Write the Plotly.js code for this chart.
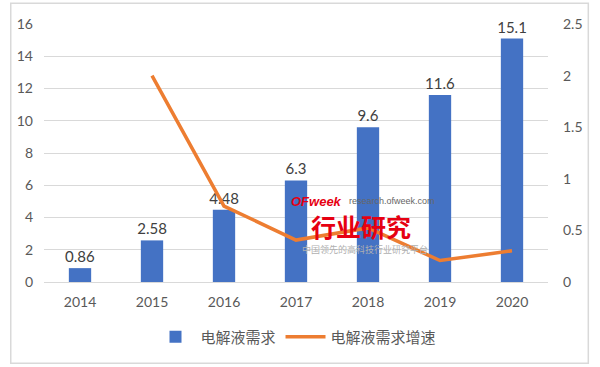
<!DOCTYPE html>
<html><head><meta charset="utf-8">
<script src="https://cdn.plot.ly/plotly-3.0.1.min.js"></script>
<style>html,body{margin:0;padding:0;background:#fff}#c{width:600px;height:367px}</style>
</head><body><div id="c"></div>
<script>
const years = ['2014','2015','2016','2017','2018','2019','2020'];
const demand = [0.86, 2.58, 4.48, 6.3, 9.6, 11.6, 15.1];
const demandLabels = ['0.86','2.58','4.48','6.3','9.6','11.6','15.1'];
const growthYears = ['2015','2016','2017','2018','2019','2020'];
const growth = [2.0, 0.736, 0.406, 0.524, 0.208, 0.302];
const leftTicks = [0,2,4,6,8,10,12,14,16];
const rightTicks = [0,0.5,1,1.5,2,2.5];
const rightTickText = ['0','0.5','1','1.5','2','2.5'];

const font = 'Lato, "Noto Sans CJK SC", sans-serif';
const data = [
  {type:'bar', x:years, y:demand, name:'电解液需求', marker:{color:'#4472C4'},
   text:demandLabels, textposition:'outside', cliponaxis:false, constraintext:'none',
   textfont:{family:font, size:15, color:'#404040'}, hoverinfo:'none'},
  {type:'scatter', mode:'lines', x:growthYears, y:growth, yaxis:'y2', name:'电解液需求增速',
   line:{color:'#ED7D31', width:3.5}, hoverinfo:'none'}
];
const layout = {
  width:600, height:367, margin:{l:44, r:52, t:24, b:85, autoexpand:false},
  paper_bgcolor:'#fff', plot_bgcolor:'#fff', showlegend:true,
  bargap:0.69,
  font:{family:font, color:'#595959', size:14},
  xaxis:{type:'category', showgrid:false, zeroline:false, showline:false, ticks:'',
    tickfont:{size:14, color:'#595959'}, ticklabelstandoff:10},
  yaxis:{range:[0,16], tickvals:leftTicks, showgrid:true, gridcolor:'#D9D9D9', gridwidth:1,
    zeroline:true, zerolinecolor:'#D9D9D9', showline:false, tickfont:{size:14, color:'#595959'}, ticklabelstandoff:10},
  yaxis2:{overlaying:'y', side:'right', range:[0,2.5], tickvals:rightTicks, ticktext:rightTickText,
    showgrid:false, zeroline:false, showline:false, tickfont:{size:14, color:'#595959'}, ticklabelstandoff:14},
  legend:{orientation:'h', x:0.5, xanchor:'center', yref:'container', y:0.082, yanchor:'middle',
    font:{family:'"Noto Sans CJK SC", sans-serif', size:15, color:'#595959'}, itemwidth:40},
  shapes:[{type:'rect', xref:'paper', yref:'paper', x0:-0.066, x1:1.08, y0:-0.315, y1:1.08,
    line:{color:'#D9D9D9', width:1.5}}],
  annotations:[
    {xref:'paper', yref:'paper', x:(289-44)/504, y:(282-201)/258, xanchor:'left', yanchor:'middle', showarrow:false,
     text:'<b><i>OFweek</i></b>', font:{family:'"Liberation Sans", sans-serif', size:13, color:'#E60012'}},
    {xref:'paper', yref:'paper', x:(347-44)/504, y:(282-201)/258, xanchor:'left', yanchor:'middle', showarrow:false,
     text:'research.ofweek.com', font:{family:'"Liberation Sans", sans-serif', size:9, color:'#666666'}},
    {xref:'paper', yref:'paper', x:(309-44)/504, y:(282-226)/258, xanchor:'left', yanchor:'middle', showarrow:false,
     text:'<b>行业研究</b>', font:{family:'"Noto Sans CJK SC", sans-serif', size:25, color:'#E60012'}},
    {xref:'paper', yref:'paper', x:(300-44)/504, y:(282-249)/258, xanchor:'left', yanchor:'middle', showarrow:false,
     text:'中国领先的高科技行业研究平台', font:{family:'"Noto Sans CJK SC", sans-serif', size:9, color:'#B0B0B0'}}
  ]
};
Plotly.newPlot('c', data, layout, {displayModeBar:false, staticPlot:true});
</script></body></html>
